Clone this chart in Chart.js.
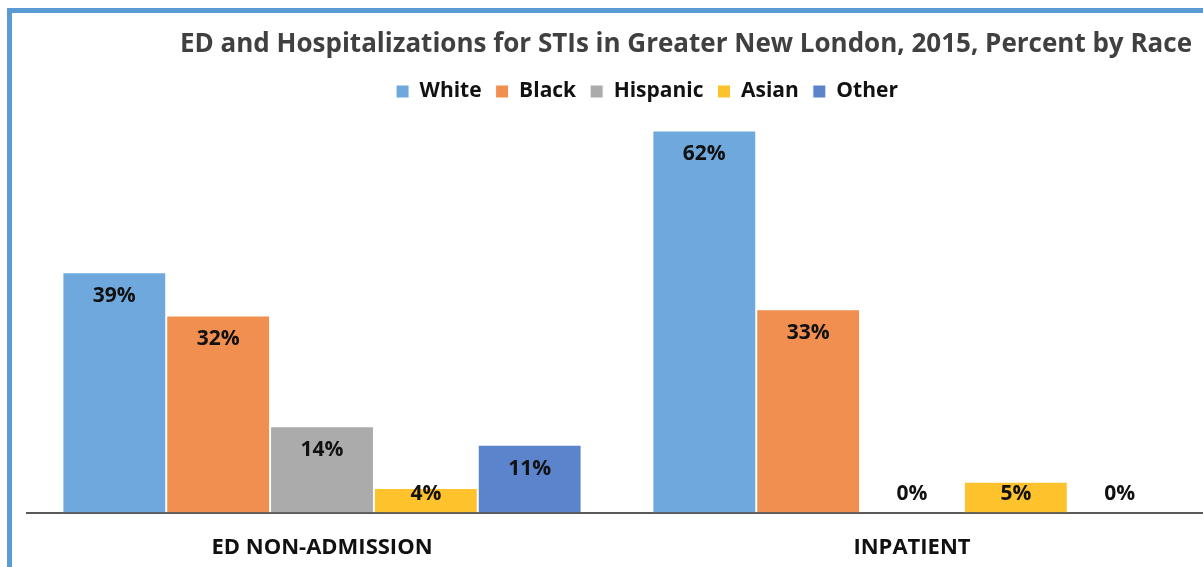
<!DOCTYPE html>
<html>
<head>
<meta charset="utf-8">
<script src="https://cdn.jsdelivr.net/npm/chart.js@4"></script>
<style>
    html, body { margin: 0; padding: 0; background: #fff; overflow: hidden; }
    #wrap { position: relative; width: 1203px; height: 567px; overflow: hidden; }
    #frame {
        position: absolute; left: 7px; top: 8px; width: 1300px; height: 600px;
        border-top: 5px solid #5b9bd5; border-left: 5px solid #5b9bd5;
    }
    #raceChart { position: absolute; left: 0; top: 0; }
</style>
</head>
<body>
<div id="wrap">
    <div id="frame"></div>
    <canvas id="raceChart" width="1207" height="590"></canvas>
</div>
<script>
const chartTitle = 'ED and Hospitalizations for STIs in Greater New London, 2015, Percent by Race';
const visitTypes = ['ED NON-ADMISSION', 'INPATIENT'];
const races = ['White', 'Black', 'Hispanic', 'Asian', 'Other'];
const white = [39, 62];
const black = [32, 33];
const hispanic = [14, 0];
const asian = [4, 5];
const other = [11, 0];
const raceColors = ['#6fa8dc', '#f08f50', '#ababab', '#fdc22c', '#5b84cd'];

const fontFamily = '"Open Sans", sans-serif';

// title is drawn off-centre and labels sit just inside the top of each bar
const decorations = {
    id: 'decorations',
    afterLayout(chart) {
        chart.legend.left += 30;
        chart.legend.right += 30;
    },
    afterDatasetsDraw(chart) {
        const ctx = chart.ctx;
        const base = chart.scales.y.getPixelForValue(0);
        ctx.save();
        ctx.font = 'bold 21px ' + fontFamily;
        ctx.fillStyle = '#111';
        ctx.textAlign = 'center';
        ctx.textBaseline = 'middle';
        chart.data.datasets.forEach((ds, i) => {
            chart.getDatasetMeta(i).data.forEach((bar, j) => {
                const y = Math.min(bar.y + 24, base - 19);
                ctx.fillText(ds.data[j] + '%', bar.x, y);
            });
        });
        ctx.restore();
    },
    afterDraw(chart) {
        const ctx = chart.ctx;
        ctx.save();
        ctx.font = 'bold 26px ' + fontFamily;
        ctx.fillStyle = '#404040';
        ctx.textAlign = 'center';
        ctx.textBaseline = 'middle';
        ctx.fillText(chartTitle, 686, 45, 1017);
        ctx.restore();
    }
};

const seriesValues = [white, black, hispanic, asian, other];

new Chart(document.getElementById('raceChart'), {
    type: 'bar',
    data: {
        labels: visitTypes,
        datasets: races.map((race, i) => ({
            label: race,
            data: seriesValues[i],
            backgroundColor: raceColors[i],
            borderColor: '#ffffff',
            borderWidth: 1,
            borderSkipped: 'bottom',
            categoryPercentage: 0.88,
            barPercentage: 1.0
        }))
    },
    options: {
        responsive: false,
        animation: false,
        layout: {
            padding: { top: 67, left: 27, right: 0, bottom: 7 }
        },
        plugins: {
            title: { display: false },
            tooltip: { enabled: false },
            legend: {
                position: 'top',
                labels: {
                    boxWidth: 13,
                    boxHeight: 13,
                    padding: 14,
                    color: '#111',
                    font: { family: fontFamily, size: 21, weight: 'bold' }
                }
            }
        },
        scales: {
            x: {
                grid: { display: false, drawTicks: false },
                border: { display: true, color: '#5a5a5a', width: 2 },
                ticks: {
                    padding: 22,
                    color: '#111',
                    font: { family: fontFamily, size: 22, weight: 'bold' }
                }
            },
            y: {
                display: false,
                min: 0,
                max: 65
            }
        }
    },
    plugins: [decorations]
});
</script>
</body>
</html>
